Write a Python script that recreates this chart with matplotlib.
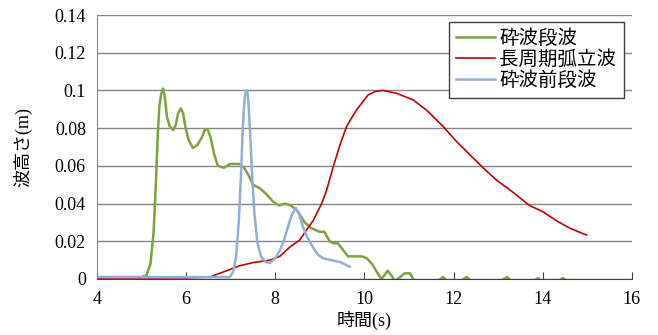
import matplotlib.pyplot as plt

# 砕波段波
t_green = [4.0, 4.5, 5.0, 5.11, 5.2, 5.27, 5.32, 5.36, 5.4, 5.44, 5.48, 5.52, 5.57, 5.63,
           5.71, 5.77, 5.82, 5.88, 5.93, 5.98, 6.05, 6.15, 6.25, 6.35, 6.42, 6.48, 6.55,
           6.63, 6.71, 6.85, 6.98, 7.1, 7.2, 7.3, 7.4, 7.5, 7.66, 7.8, 7.95, 8.08, 8.21,
           8.35, 8.5, 8.66, 8.8, 9.0, 9.1, 9.22, 9.3, 9.4, 9.5, 9.63, 9.8, 9.95, 10.05,
           10.17, 10.27, 10.38, 10.45, 10.52, 10.6, 10.68, 10.8, 10.9, 11.02, 11.12, 11.3,
           11.6, 11.76, 11.9, 12.1, 12.29, 12.45, 12.8, 13.05, 13.2, 13.35, 13.8, 13.9,
           14.0, 14.3, 14.45, 14.6, 14.8]
h_green = [0.001, 0.001, 0.001, 0.002, 0.008, 0.025, 0.05, 0.075, 0.092, 0.098, 0.101,
           0.097, 0.086, 0.081, 0.079, 0.082, 0.088, 0.0905, 0.088, 0.081, 0.074, 0.0695,
           0.071, 0.075, 0.079, 0.0795, 0.075, 0.066, 0.060, 0.059, 0.061, 0.061, 0.061,
           0.059, 0.055, 0.050, 0.048, 0.045, 0.041, 0.039, 0.040, 0.039, 0.036, 0.030,
           0.027, 0.025, 0.025, 0.020, 0.019, 0.019, 0.016, 0.012, 0.012, 0.012, 0.011,
           0.008, 0.004, 0.0, 0.002, 0.0044, 0.002, -0.001, 0.001, 0.003, 0.003, -0.001,
           -0.003, -0.002, 0.001, -0.002, -0.002, 0.001, -0.002, -0.002, -0.001, 0.001,
           -0.002, -0.001, 0.0005, -0.002, -0.002, 0.0005, -0.002, -0.003]

# 長周期弧立波
t_red = [4.0, 5.0, 6.0, 6.53, 6.75, 6.98, 7.2, 7.5, 7.88, 8.1, 8.33, 8.55, 8.7, 8.85, 9.04,
         9.15, 9.3, 9.45, 9.6, 9.82, 10.08, 10.25, 10.41, 10.72, 11.09, 11.39, 11.76,
         12.06, 12.36, 12.66, 12.96, 13.33, 13.7, 14.0, 14.3, 14.6, 14.98]
h_red = [0.0005, 0.0005, 0.0006, 0.001, 0.003, 0.005, 0.007, 0.0087, 0.010, 0.012, 0.017,
         0.0207, 0.026, 0.031, 0.040, 0.047, 0.0596, 0.071, 0.081, 0.0896, 0.0976, 0.0995,
         0.100, 0.0985, 0.095, 0.0896, 0.081, 0.073, 0.066, 0.059, 0.0525, 0.046, 0.039,
         0.0357, 0.031, 0.027, 0.0233]

# 砕波前段波
t_blue = [4.0, 5.0, 6.0, 6.98, 7.06, 7.12, 7.18, 7.23, 7.27, 7.31, 7.34, 7.37, 7.4, 7.44,
          7.48, 7.53, 7.6, 7.68, 7.78, 7.88, 8.0, 8.1, 8.2, 8.3, 8.37, 8.46, 8.54, 8.62,
          8.72, 8.84, 8.95, 9.07, 9.25, 9.45, 9.67]
h_blue = [0.001, 0.001, 0.001, 0.001, 0.004, 0.012, 0.030, 0.055, 0.080, 0.096, 0.100,
          0.100, 0.093, 0.075, 0.055, 0.035, 0.019, 0.012, 0.009, 0.0085, 0.011, 0.015,
          0.021, 0.029, 0.034, 0.0376, 0.034, 0.0276, 0.022, 0.017, 0.013, 0.011, 0.010,
          0.009, 0.0065]

fonte = ['Liberation Serif', 'Noto Sans CJK JP']
plt.rcParams['font.family'] = fonte

fig = plt.figure(figsize=(6.58, 3.35), dpi=100)
ax = fig.add_axes([0.1474, 0.1672, 0.813, 0.788])

ax.plot(t_green, h_green, color='#7BA33E', lw=1.8, label='砕波段波')
ax.plot(t_red, h_red, color='#C80000', lw=1.2, label='長周期弧立波')
ax.plot(t_blue, h_blue, color='#92ADDA', lw=1.8, label='砕波前段波')

ax.set_xlim(4, 16)
ax.set_ylim(0, 0.14)
ax.set_xticks(range(4, 17, 2))
ax.set_yticks([0, 0.02, 0.04, 0.06, 0.08, 0.1, 0.12, 0.14])
ax.set_yticklabels(['0', '0.02', '0.04', '0.06', '0.08', '0.1', '0.12', '0.14'])
ax.yaxis.grid(True, color='#868686', lw=1)
ax.set_axisbelow(True)

ax.tick_params(axis='x', direction='in', length=5, labelsize=13, pad=9, color='#404040')
ax.tick_params(axis='y', length=0, labelsize=13, pad=8)
for s in ['top', 'right']:
    ax.spines[s].set_visible(False)
ax.spines['left'].set_color('#868686')
ax.spines['bottom'].set_color('#404040')

ax.set_xlabel('時間(s)', fontsize=13, labelpad=2)
ax.set_ylabel('波高さ(m)', fontsize=13, labelpad=16)

leg = ax.legend(loc='upper right', bbox_to_anchor=(0.985, 0.975), fontsize=14,
                handlelength=2.0, handletextpad=0.2, borderpad=0.4, labelspacing=0.12,
                borderaxespad=0, fancybox=False, framealpha=1)
leg.get_frame().set_edgecolor('#404040')
leg.get_frame().set_linewidth(1)

plt.savefig('out.png', dpi=100)
